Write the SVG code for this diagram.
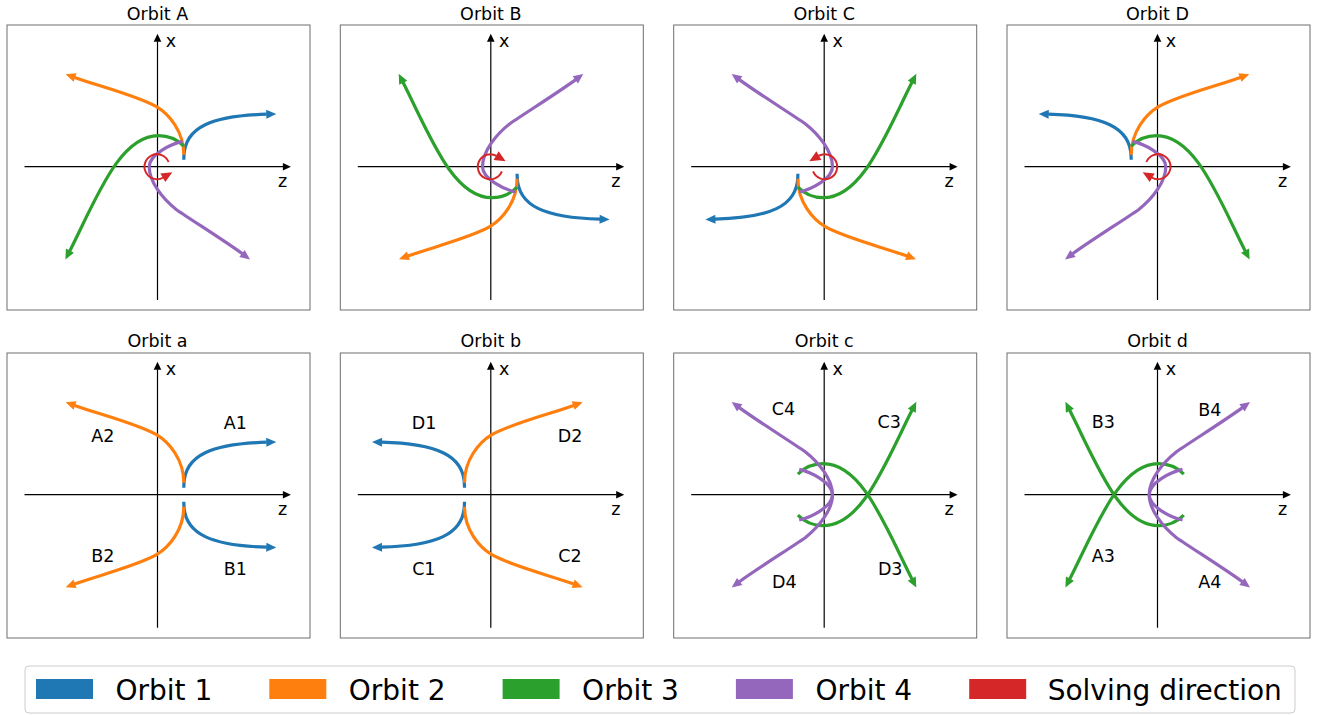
<svg xmlns="http://www.w3.org/2000/svg" xmlns:xlink="http://www.w3.org/1999/xlink" width="1324" height="715" viewBox="0 0 1324 715">
<style>
text{font-family:"DejaVu Sans","Liberation Sans",sans-serif;fill:#000}
.title,.lbl{font-size:17.5px;text-anchor:middle}
.axl{font-size:17.5px}
.frame{fill:none;stroke:#6e6e6e;stroke-width:1}
.ax{stroke:#000;stroke-width:1.2;marker-end:url(#mk)}
.c{fill:none;stroke-width:3.2;stroke-linecap:butt}
.cb{stroke:#1f77b4;marker-end:url(#mb)}
.co{stroke:#ff7f0e;marker-end:url(#mo)}
.cg{stroke:#2ca02c;marker-end:url(#mg)}
.cp{stroke:#9467bd;marker-end:url(#mp)}
.cr{fill:none;stroke:#d62728;stroke-width:2;marker-end:url(#mr)}
.leg{font-size:28px}
</style>
<defs>
<marker id="mk" markerUnits="userSpaceOnUse" orient="auto" refX="0.3" refY="0" overflow="visible"><path d="M0,-3.8L8,0L0,3.8z" fill="#000"/></marker>
<marker id="mb" markerUnits="userSpaceOnUse" orient="auto" refX="0.5" refY="0" overflow="visible"><path d="M0,-4.5L10,0L0,4.5z" fill="#1f77b4"/></marker>
<marker id="mo" markerUnits="userSpaceOnUse" orient="auto" refX="0.5" refY="0" overflow="visible"><path d="M0,-4.5L10,0L0,4.5z" fill="#ff7f0e"/></marker>
<marker id="mg" markerUnits="userSpaceOnUse" orient="auto" refX="0.5" refY="0" overflow="visible"><path d="M0,-4.5L10,0L0,4.5z" fill="#2ca02c"/></marker>
<marker id="mp" markerUnits="userSpaceOnUse" orient="auto" refX="0.5" refY="0" overflow="visible"><path d="M0,-4.5L10,0L0,4.5z" fill="#9467bd"/></marker>
<marker id="mr" markerUnits="userSpaceOnUse" orient="auto" refX="0.5" refY="0" overflow="visible"><path d="M0,-5L11,0L0,5z" fill="#d62728"/></marker>
<path id="pb" d="M26.3,-7L26.4,-10C27,-40 55,-51 109.3,-52.5"/>
<path id="po" d="M26.3,-12C26.3,-35 11.9,-52.2 -1,-60C-20,-71 -60,-81 -82.9,-89.3"/>
<path id="pg" d="M26.3,-20.5C18,-29 8,-31 1,-31C-38,-31 -60.8,31 -87.8,84.4"/>
<path id="pp" d="M25,-25.3C13,-22.6 -8.3,-12 -8.3,0C-8.3,15 5,32 19,43C35,54 70,76 84.9,87.1"/>
<path id="pr" d="M11.1,-4.7A12.5,12.5 0 1 0 5.75,10.8"/>
</defs>

<g id="panel-A" transform="translate(157.5,166.7)">
<rect class="frame" x="-150.5" y="-141.7" width="303" height="285"/>
<line class="ax" x1="-133" y1="0" x2="125.7" y2="0"/>
<line class="ax" x1="0" y1="133.3" x2="0" y2="-125.3"/>
<text class="title" x="0" y="-146.7">Orbit A</text>
<text class="axl" x="8.3" y="-119.5">x</text>
<text class="axl" x="120.4" y="20.7">z</text>
<g class="c"><use href="#pb" class="cb"/><use href="#po" class="co"/><use href="#pg" class="cg"/><use href="#pp" class="cp"/></g>
<use href="#pr" class="cr"/>
</g>

<g id="panel-B" transform="translate(490.8,166.7)">
<rect class="frame" x="-150.5" y="-141.7" width="303" height="285"/>
<line class="ax" x1="-133" y1="0" x2="125.7" y2="0"/>
<line class="ax" x1="0" y1="133.3" x2="0" y2="-125.3"/>
<text class="title" x="0" y="-146.7">Orbit B</text>
<text class="axl" x="8.3" y="-119.5">x</text>
<text class="axl" x="120.4" y="20.7">z</text>
<g class="c" transform="scale(1,-1)"><use href="#pb" class="cb"/><use href="#po" class="co"/><use href="#pg" class="cg"/><use href="#pp" class="cp"/><use href="#pr" class="cr"/></g>
</g>

<g id="panel-C" transform="translate(824.2,166.7)">
<rect class="frame" x="-150.5" y="-141.7" width="303" height="285"/>
<line class="ax" x1="-133" y1="0" x2="125.7" y2="0"/>
<line class="ax" x1="0" y1="133.3" x2="0" y2="-125.3"/>
<text class="title" x="0" y="-146.7">Orbit C</text>
<text class="axl" x="8.3" y="-119.5">x</text>
<text class="axl" x="120.4" y="20.7">z</text>
<g class="c" transform="scale(-1,-1)"><use href="#pb" class="cb"/><use href="#po" class="co"/><use href="#pg" class="cg"/><use href="#pp" class="cp"/><use href="#pr" class="cr"/></g>
</g>

<g id="panel-D" transform="translate(1157.5,166.7)">
<rect class="frame" x="-150.5" y="-141.7" width="303" height="285"/>
<line class="ax" x1="-133" y1="0" x2="125.7" y2="0"/>
<line class="ax" x1="0" y1="133.3" x2="0" y2="-125.3"/>
<text class="title" x="0" y="-146.7">Orbit D</text>
<text class="axl" x="8.3" y="-119.5">x</text>
<text class="axl" x="120.4" y="20.7">z</text>
<g class="c" transform="scale(-1,1)"><use href="#pb" class="cb"/><use href="#po" class="co"/><use href="#pg" class="cg"/><use href="#pp" class="cp"/><use href="#pr" class="cr"/></g>
</g>

<g id="panel-a" transform="translate(157.5,494.7)">
<rect class="frame" x="-150.5" y="-141.7" width="303" height="285"/>
<line class="ax" x1="-133" y1="0" x2="125.7" y2="0"/>
<line class="ax" x1="0" y1="133" x2="0" y2="-125.3"/>
<text class="title" x="0" y="-147.5">Orbit a</text>
<text class="axl" x="8.3" y="-119.5">x</text>
<text class="axl" x="120.4" y="20.7">z</text>
<g class="c"><use href="#pb" class="cb"/><use href="#po" class="co"/></g>
<g class="c" transform="scale(1,-1)"><use href="#pb" class="cb"/><use href="#po" class="co"/></g>
<text class="lbl" x="77.8" y="-65.7">A1</text>
<text class="lbl" x="-54.7" y="-53">A2</text>
<text class="lbl" x="-54.7" y="67">B2</text>
<text class="lbl" x="77.8" y="80.3">B1</text>
</g>

<g id="panel-b" transform="translate(490.8,494.7)">
<rect class="frame" x="-150.5" y="-141.7" width="303" height="285"/>
<line class="ax" x1="-133" y1="0" x2="125.7" y2="0"/>
<line class="ax" x1="0" y1="133" x2="0" y2="-125.3"/>
<text class="title" x="0" y="-147.5">Orbit b</text>
<text class="axl" x="8.3" y="-119.5">x</text>
<text class="axl" x="120.4" y="20.7">z</text>
<g class="c" transform="scale(-1,1)"><use href="#pb" class="cb"/><use href="#po" class="co"/></g>
<g class="c" transform="scale(-1,-1)"><use href="#pb" class="cb"/><use href="#po" class="co"/></g>
<text class="lbl" x="-66.8" y="-65.7">D1</text>
<text class="lbl" x="79.2" y="-52.4">D2</text>
<text class="lbl" x="-67" y="80.3">C1</text>
<text class="lbl" x="79.2" y="67">C2</text>
</g>

<g id="panel-c" transform="translate(824.2,494.7)">
<rect class="frame" x="-150.5" y="-141.7" width="303" height="285"/>
<line class="ax" x1="-133" y1="0" x2="125.7" y2="0"/>
<line class="ax" x1="0" y1="133" x2="0" y2="-125.3"/>
<text class="title" x="0" y="-147.5">Orbit c</text>
<text class="axl" x="8.3" y="-119.5">x</text>
<text class="axl" x="120.4" y="20.7">z</text>
<g class="c" transform="scale(-1,-1)"><use href="#pg" class="cg"/></g>
<g class="c" transform="scale(-1,1)"><use href="#pg" class="cg"/></g>
<g class="c" transform="scale(-1,-1)"><use href="#pp" class="cp"/></g>
<g class="c" transform="scale(-1,1)"><use href="#pp" class="cp"/></g>
<text class="lbl" x="-40.7" y="-79.7">C4</text>
<text class="lbl" x="65.1" y="-66.4">C3</text>
<text class="lbl" x="66" y="80.3">D3</text>
<text class="lbl" x="-39.9" y="93.6">D4</text>
</g>

<g id="panel-d" transform="translate(1157.5,494.7)">
<rect class="frame" x="-150.5" y="-141.7" width="303" height="285"/>
<line class="ax" x1="-133" y1="0" x2="125.7" y2="0"/>
<line class="ax" x1="0" y1="133" x2="0" y2="-125.3"/>
<text class="title" x="0" y="-147.5">Orbit d</text>
<text class="axl" x="8.3" y="-119.5">x</text>
<text class="axl" x="120.4" y="20.7">z</text>
<g class="c" transform="scale(1,-1)"><use href="#pg" class="cg"/></g>
<g class="c"><use href="#pg" class="cg"/></g>
<g class="c" transform="scale(1,-1)"><use href="#pp" class="cp"/></g>
<g class="c"><use href="#pp" class="cp"/></g>
<text class="lbl" x="-54.3" y="-66.4">B3</text>
<text class="lbl" x="52.3" y="-79">B4</text>
<text class="lbl" x="-54.3" y="67">A3</text>
<text class="lbl" x="52.3" y="93.6">A4</text>
</g>

<g id="legend">
<rect x="25" y="666" width="1270" height="47" rx="4" fill="#fff" stroke="#cccccc" stroke-width="1"/>
<rect x="36" y="679" width="57" height="20" fill="#1f77b4"/>
<text class="leg" x="115.5" y="699.5">Orbit 1</text>
<rect x="269.3" y="679" width="57" height="20" fill="#ff7f0e"/>
<text class="leg" x="348.8" y="699.5">Orbit 2</text>
<rect x="502.6" y="679" width="57" height="20" fill="#2ca02c"/>
<text class="leg" x="582.1" y="699.5">Orbit 3</text>
<rect x="735.9" y="679" width="57" height="20" fill="#9467bd"/>
<text class="leg" x="815.4" y="699.5">Orbit 4</text>
<rect x="969.2" y="679" width="57" height="20" fill="#d62728"/>
<text class="leg" x="1047.7" y="699.5">Solving direction</text>
</g>
</svg>
